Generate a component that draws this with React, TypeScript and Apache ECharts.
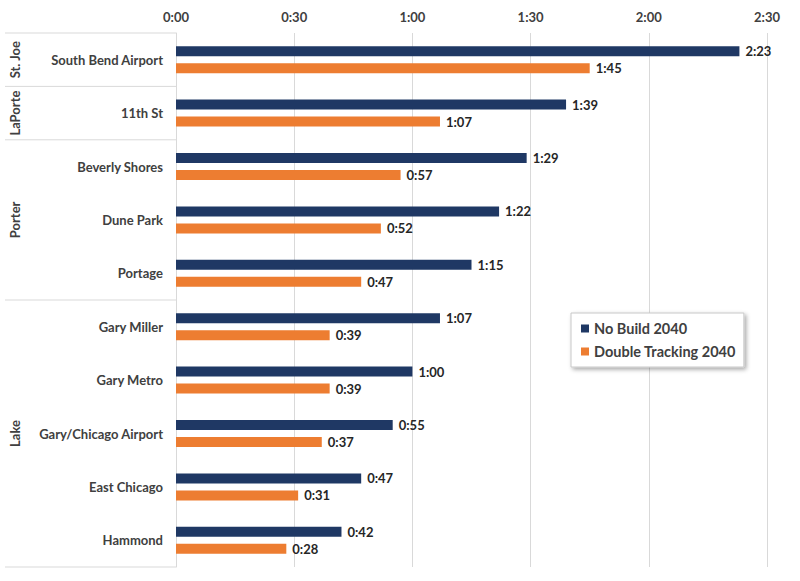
import React, { useEffect, useRef } from "react";
import * as echarts from "echarts";

const stations = [
  "South Bend Airport",
  "11th St",
  "Beverly Shores",
  "Dune Park",
  "Portage",
  "Gary Miller",
  "Gary Metro",
  "Gary/Chicago Airport",
  "East Chicago",
  "Hammond",
];
const groups = ["St. Joe", "LaPorte", "Porter", "Lake"];
const groupSizes = [1, 1, 3, 5];
const noBuild2040 = [143, 99, 89, 82, 75, 67, 60, 55, 47, 42];
const doubleTracking2040 = [105, 67, 57, 52, 47, 39, 39, 37, 31, 28];
const seriesNames = ["No Build 2040", "Double Tracking 2040"];

const FONT = "Lato, 'Open Sans', sans-serif";
const TEXT = "#404040";
const NAVY = "#1F3864";
const ORANGE = "#ED7D31";

const fmt = (v: number) => {
  const h = Math.floor(v / 60);
  const m = Math.round(v - h * 60);
  return `${h}:${m < 10 ? "0" + m : m}`;
};

export default function App() {
  const ref = useRef<HTMLDivElement>(null);
  useEffect(() => {
    document.body.style.margin = "0";
    const chart = echarts.init(ref.current!, undefined, { renderer: "svg" });
    const labelStyle = {
      show: true,
      position: "right" as const,
      distance: 6,
      fontFamily: FONT,
      fontWeight: "bold" as const,
      fontSize: 13,
      color: "#262626",
      formatter: (p: any) => fmt(p.value),
    };
    chart.setOption({
      animation: false,
      grid: { left: 176, right: 33, top: 33, bottom: 14, containLabel: false },
      xAxis: {
        type: "value",
        position: "top",
        min: 0,
        max: 150,
        interval: 30,
        axisLine: { show: false },
        axisTick: { show: false },
        splitLine: { lineStyle: { color: "#d9d9d9", width: 1 } },
        axisLabel: {
          formatter: (v: number) => fmt(v),
          fontFamily: FONT,
          fontWeight: "bold",
          fontSize: 13,
          color: TEXT,
          margin: 10,
        },
      },
      yAxis: {
        type: "category",
        inverse: true,
        data: stations,
        axisLine: { show: true, lineStyle: { color: "#d9d9d9" } },
        axisTick: { show: false },
        axisLabel: {
          fontFamily: FONT,
          fontWeight: "bold",
          fontSize: 13,
          color: TEXT,
          margin: 13,
        },
      },
      legend: {
        orient: "vertical",
        left: 571,
        top: 313,
        data: seriesNames,
        icon: "rect",
        itemWidth: 8,
        itemHeight: 8,
        itemGap: 8,
        padding: [8, 8, 8, 10],
        backgroundColor: "#fff",
        borderColor: "#c8c8c8",
        borderWidth: 1,
        shadowBlur: 4,
        shadowColor: "rgba(0,0,0,0.35)",
        shadowOffsetX: 2,
        shadowOffsetY: 2,
        textStyle: {
          fontFamily: FONT,
          fontWeight: "bold",
          fontSize: 14.5,
          color: TEXT,
        },
      },
      series: [
        {
          name: seriesNames[0],
          type: "bar",
          data: noBuild2040,
          barWidth: 10,
          barGap: "70%",
          itemStyle: { color: NAVY },
          label: labelStyle,
        },
        {
          name: seriesNames[1],
          type: "bar",
          data: doubleTracking2040,
          barWidth: 10,
          itemStyle: { color: ORANGE },
          label: labelStyle,
        },
      ],
    });

    const yAt = (idx: number) => chart.convertToPixel({ yAxisIndex: 0 }, idx) as number;
    const y0 = yAt(0);
    const band = yAt(1) - y0;
    const axisX = chart.convertToPixel({ xAxisIndex: 0 }, 0) as number;
    const boundary = (i: number) => y0 - band / 2 + i * band;
    const elems: any[] = [
      {
        type: "line",
        shape: { x1: 5, y1: boundary(0), x2: axisX, y2: boundary(0) },
        style: { stroke: "#d9d9d9", lineWidth: 1 },
      },
    ];
    let start = 0;
    groups.forEach((g, gi) => {
      const end = start + groupSizes[gi];
      const top = boundary(start);
      const bot = boundary(end);
      elems.push({
        type: "line",
        shape: { x1: 5, y1: bot, x2: axisX, y2: bot },
        style: { stroke: "#d9d9d9", lineWidth: 1 },
      });
      elems.push({
        type: "text",
        x: 15,
        y: (top + bot) / 2,
        rotation: Math.PI / 2,
        style: {
          text: g,
          fontFamily: FONT,
          fontWeight: "bold",
          fontSize: 13,
          fill: TEXT,
          align: "center",
          verticalAlign: "middle",
        },
      });
      start = end;
    });
    chart.setOption({ graphic: elems });

    return () => chart.dispose();
  }, []);
  return <div ref={ref} style={{ width: 800, height: 581 }} />;
}
